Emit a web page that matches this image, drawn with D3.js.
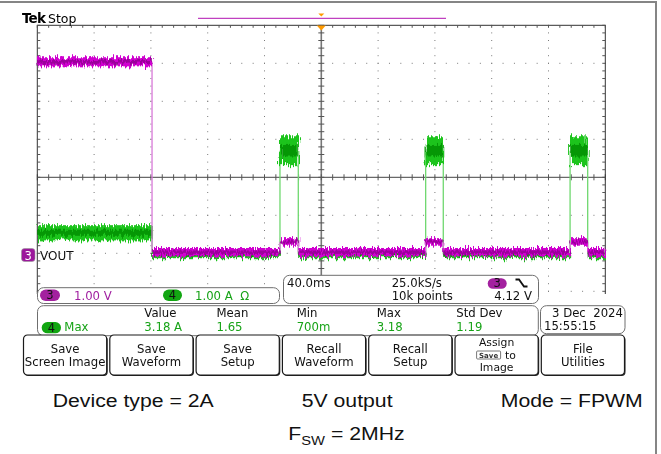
<!DOCTYPE html>
<html>
<head>
<meta charset="utf-8">
<script src="https://cdn.jsdelivr.net/npm/d3@7"></script>
<style>
  html, body { margin: 0; padding: 0; background: #fff; }
  text { white-space: pre; }
</style>
</head>
<body>
<div id="scope"></div>
<script>
// ---- data ----
// time in ms across the 10 div screen (40.0 ms/div)
var segStart = [0, 80.8, 170.9, 183.8, 273.5, 285.9, 375.2, 387.6];
var segEnd   = [80.8, 170.9, 183.8, 273.5, 285.9, 375.2, 387.6, 400];
// ch3 VOUT (V), noise band low / high
var voutLo = [4.98, -0.02, 0.26, -0.02, 0.26, -0.02, 0.26, -0.02];
var voutHi = [5.22, 0.20, 0.46, 0.20, 0.46, 0.20, 0.46, 0.20];
// ch4 inductor current (A), noise band low / high
var iLo = [0.40, -0.07, 2.38, -0.07, 2.38, -0.07, 2.38, -0.07];
var iHi = [0.80, 0.14, 3.14, 0.14, 3.14, 0.14, 3.14, 0.14];

var chanLabels = [["3", "1.00 V"], ["4", "1.00 A  Ω"]];
var measHeads = ["Value", "Mean", "Min", "Max", "Std Dev"];
var measVals = ["3.18 A", "1.65", "700m", "3.18", "1.19"];
var buttons = [["Save", "Screen Image"], ["Save", "Waveform"], ["Save", "Setup"],
               ["Recall", "Waveform"], ["Recall", "Setup"], ["Assign", "to", "Image"],
               ["File", "Utilities"]];
var captions = ["Device type = 2A", "5V output", "Mode = FPWM"];

var width = 661, height = 454;
var PURPLE_T = "#a01fa0", GREEN_T = "#17a317";
var FONT = "DejaVu Sans, Verdana, sans-serif";

var svg = d3.select("#scope").append("svg")
    .attr("width", width)
    .attr("height", height)
    .style("display", "block");

// noise filters for the trace bands
var defs = svg.append("defs");
function noiseFilter(id, seed, sc) {
    var f = defs.append("filter").attr("id", id)
        .attr("filterUnits", "userSpaceOnUse")
        .attr("x", 0).attr("y", 0).attr("width", width).attr("height", height);
    f.append("feTurbulence").attr("type", "fractalNoise")
        .attr("baseFrequency", "0.75 0.04").attr("numOctaves", 2)
        .attr("seed", seed).attr("result", "t");
    f.append("feDisplacementMap").attr("in", "SourceGraphic").attr("in2", "t")
        .attr("scale", sc).attr("xChannelSelector", "B").attr("yChannelSelector", "R");
}
noiseFilter("nz1", 3, 11);
noiseFilter("nz2", 8, 9);
defs.append("clipPath").attr("id", "gratClip")
    .append("rect").attr("x", 0).attr("y", 0).attr("width", width).attr("height", 294);

// outer frame (top + right)
svg.append("rect").attr("x", 0).attr("y", 1).attr("width", 657).attr("height", 2).attr("fill", "#858585");
svg.append("rect").attr("x", 655).attr("y", 1).attr("width", 2).attr("height", height).attr("fill", "#858585");

// scales: x in ms, y in divisions
var x = d3.scaleLinear().domain([0, 400]).range([37.3, 605.3]);
var y = d3.scaleLinear().domain([-4, 4]).range([329.3, 25.3]);
var chOffset = -2.06; // ground level of ch3 / ch4 in div

// ---- graticule ----
var grat = svg.append("g").attr("clip-path", "url(#gratClip)");
var minorT = d3.range(0, 400.01, 8);
var minorD = d3.range(-4, 4.01, 0.2);
// dotted major lines
d3.range(40, 400, 40).filter(function (t) { return t != 200; }).forEach(function (t) {
    grat.selectAll(null).data(minorD).enter().append("rect")
        .attr("x", x(t) - 0.5).attr("y", function (d) { return y(d) - 0.5; })
        .attr("width", 1).attr("height", 1).attr("fill", "#7a7a7a");
});
d3.range(-3, 4, 1).filter(function (d) { return d != 0; }).forEach(function (dv) {
    grat.selectAll(null).data(minorT).enter().append("rect")
        .attr("x", function (t) { return x(t) - 0.5; }).attr("y", y(dv) - 0.5)
        .attr("width", 1).attr("height", 1).attr("fill", "#7a7a7a");
});
// center cross
grat.append("line").attr("x1", x(0)).attr("x2", x(400)).attr("y1", y(0)).attr("y2", y(0))
    .attr("stroke", "#444").attr("stroke-width", 1);
grat.append("line").attr("x1", x(200)).attr("x2", x(200)).attr("y1", y(4)).attr("y2", y(-4))
    .attr("stroke", "#777").attr("stroke-width", 1.6);
grat.selectAll(null).data(minorT).enter().append("line")
    .attr("x1", function (t) { return x(t); }).attr("x2", function (t) { return x(t); })
    .attr("y1", y(0) - 3).attr("y2", y(0) + 3).attr("stroke", "#555");
grat.selectAll(null).data(minorD).enter().append("line")
    .attr("x1", x(200) - 3).attr("x2", x(200) + 3)
    .attr("y1", function (d) { return y(d); }).attr("y2", function (d) { return y(d); })
    .attr("stroke", "#555");
// border + inward ticks
grat.append("rect").attr("x", x(0)).attr("y", y(4)).attr("width", x(400) - x(0)).attr("height", y(-4) - y(4))
    .attr("fill", "none").attr("stroke", "#333");
grat.selectAll(null).data(minorT).enter().append("line")
    .attr("x1", function (t) { return x(t); }).attr("x2", function (t) { return x(t); })
    .attr("y1", y(4)).attr("y2", y(4) + 2.5).attr("stroke", "#555");
grat.selectAll(null).data(minorD).enter().append("line")
    .attr("x1", x(0)).attr("x2", x(0) + 3)
    .attr("y1", function (d) { return y(d); }).attr("y2", function (d) { return y(d); })
    .attr("stroke", "#555");
grat.selectAll(null).data(minorD).enter().append("line")
    .attr("x1", x(400) - 3).attr("x2", x(400))
    .attr("y1", function (d) { return y(d); }).attr("y2", function (d) { return y(d); })
    .attr("stroke", "#555");

// ---- traces ----
function drawTrace(lo, hi, col, core, edge) {
    var g = svg.append("g");
    var idx = d3.range(segStart.length);
    // vertical edges between levels
    g.selectAll(null).data(idx.slice(1)).enter().append("line")
        .attr("x1", function (i) { return x(segStart[i]); })
        .attr("x2", function (i) { return x(segStart[i]); })
        .attr("y1", function (i) { return y(chOffset + (lo[i - 1] + hi[i - 1]) / 2); })
        .attr("y2", function (i) { return y(chOffset + (lo[i] + hi[i]) / 2); })
        .attr("stroke", edge).attr("stroke-width", 1.3);
    var b = g.append("g").attr("filter", "url(#nz1)");
    b.selectAll(null).data(idx).enter().append("rect")
        .attr("x", function (i) { return x(segStart[i]); })
        .attr("width", function (i) { return x(segEnd[i]) - x(segStart[i]); })
        .attr("y", function (i) { return y(chOffset + hi[i]); })
        .attr("height", function (i) { return y(chOffset + lo[i]) - y(chOffset + hi[i]); })
        .attr("fill", col);
    var c = g.append("g").attr("filter", "url(#nz2)");
    c.selectAll(null).data(idx).enter().append("rect")
        .attr("x", function (i) { return x(segStart[i]); })
        .attr("width", function (i) { return x(segEnd[i]) - x(segStart[i]); })
        .attr("y", function (i) { return y(chOffset + hi[i] - (hi[i] - lo[i]) * 0.3); })
        .attr("height", function (i) { return (y(chOffset + lo[i]) - y(chOffset + hi[i])) * 0.4; })
        .attr("fill", core).attr("opacity", 0.8);
}
drawTrace(iLo, iHi, "#1cc41c", "#008c00", "#6fd86f");
drawTrace(voutLo, voutHi, "#d000d0", "#8e008e", "#d878d8");

// ---- top status line ----
svg.append("text").attr("x", 22).attr("y", 23).attr("font-family", FONT)
    .attr("font-size", 13.5).attr("font-weight", "bold").attr("letter-spacing", -0.8).text("Tek");
svg.append("text").attr("x", 48).attr("y", 23).attr("font-family", FONT)
    .attr("font-size", 12.5).text("Stop");
svg.append("line").attr("x1", 198).attr("x2", 446).attr("y1", 18.3).attr("y2", 18.3)
    .attr("stroke", "#c040c0").attr("stroke-width", 1.3);
var tx = x(200);
svg.append("path").attr("d", "M" + (tx - 3) + ",13.5h6l-3,3z").attr("fill", "#ff9a00");
svg.append("path").attr("d", "M" + (tx - 4.5) + ",25.5h9l-4.5,5z").attr("fill", "#ff9a00");

// ch3 ground marker + label
svg.append("rect").attr("x", 21.5).attr("y", 248.5).attr("width", 13.5).attr("height", 13)
    .attr("rx", 3).attr("fill", "#9c179c").attr("stroke", "#999").attr("stroke-width", 0.6);
svg.append("text").attr("x", 28.2).attr("y", 259.5).attr("text-anchor", "middle")
    .attr("font-family", FONT).attr("font-size", 11.5).attr("fill", "#fff").text("3");
svg.append("text").attr("x", 40).attr("y", 259.5).attr("font-family", FONT)
    .attr("font-size", 12).attr("fill", "#111").text("VOUT");

// ---- readout panels ----
function box(x0, y0, w, h) {
    svg.append("rect").attr("x", x0).attr("y", y0).attr("width", w).attr("height", h)
        .attr("rx", 6).attr("fill", "#fff").attr("stroke", "#6e6e6e").attr("stroke-width", 1);
}
function pill(x0, y0, w, h, fill, label) {
    svg.append("rect").attr("x", x0).attr("y", y0).attr("width", w).attr("height", h)
        .attr("rx", h / 2).attr("fill", fill);
    svg.append("text").attr("x", x0 + w / 2).attr("y", y0 + h - 1.8).attr("text-anchor", "middle")
        .attr("font-family", FONT).attr("font-size", 11.5).attr("fill", "#111").text(label);
}
function label(x0, y0, s, col, anchor) {
    svg.append("text").attr("x", x0).attr("y", y0).attr("font-family", FONT)
        .attr("font-size", 11.7).attr("fill", col || "#111")
        .attr("text-anchor", anchor || "start").text(s);
}

// channel scale box
box(37.5, 287.7, 242, 15.8);
pill(40, 289.5, 20, 11.5, "#a3219f", chanLabels[0][0]);
label(74, 299.6, chanLabels[0][1], PURPLE_T);
pill(163, 289.5, 19, 11.5, "#12a612", chanLabels[1][0]);
label(195, 299.6, chanLabels[1][1], GREEN_T);

// timebase box
box(283.5, 275.3, 255, 28.2);
label(287, 287, "40.0ms");
label(391.7, 287, "25.0kS/s");
label(391.7, 300.3, "10k points");
pill(487.7, 278.3, 19, 10.5, "#a3219f", "3");
svg.append("path").attr("d", "M515.5,279.5h3.5l5,7h3.5").attr("fill", "none")
    .attr("stroke", "#111").attr("stroke-width", 1.8);
label(532, 300.3, "4.12 V", "#111", "end");

// measurement box
box(37.5, 305.7, 500.8, 30);
var measX = [144.3, 216.5, 296.7, 376.7, 456.3];
measHeads.forEach(function (s, i) { label(measX[i], 316.8, s); });
pill(41.7, 322, 19.3, 11.3, "#12a612", "4");
label(64.3, 330.8, "Max", GREEN_T);
measVals.forEach(function (s, i) { label(measX[i], 330.8, s, GREEN_T); });

// date box
box(540.5, 305.7, 84.5, 28);
label(552, 316.8, "3 Dec  2024");
label(544, 330.4, "15:55:15");

// ---- soft-key buttons ----
var bx = d3.scaleBand().domain(d3.range(buttons.length)).range([23.5, 624.5]).paddingInner(0.036);
var btn = svg.selectAll("g.btn").data(buttons).enter().append("g").attr("class", "btn")
    .attr("transform", function (d, i) { return "translate(" + bx(i) + ",335)"; });
btn.append("rect").attr("x", 1).attr("y", 1).attr("width", bx.bandwidth()).attr("height", 40)
    .attr("rx", 4).attr("fill", "#222");
btn.append("rect").attr("x", 0).attr("y", 0).attr("width", bx.bandwidth()).attr("height", 40)
    .attr("rx", 4).attr("fill", "#fff").attr("stroke", "#1a1a1a").attr("stroke-width", 1.2);
btn.each(function (d, i) {
    var g = d3.select(this), cx = bx.bandwidth() / 2;
    var three = d.length == 3;
    var base = three ? [10.8, 23.6, 36.4] : [18.3, 30.8];
    d.forEach(function (s, j) {
        var mid = three && j == 1;
        g.append("text").attr("x", mid ? cx + 8.5 : cx).attr("y", base[j])
            .attr("text-anchor", mid ? "start" : "middle").attr("font-family", FONT)
            .attr("font-size", three ? 10.8 : 11.7)
            .attr("fill", "#111").text(s);
    });
    if (three) {
        // small "Save" key icon
        g.append("rect").attr("x", cx - 20).attr("y", 16).attr("width", 24).attr("height", 8)
            .attr("fill", "#fff").attr("stroke", "#555").attr("stroke-width", 0.8).attr("rx", 1);
        g.append("text").attr("x", cx - 8).attr("y", 22.5).attr("text-anchor", "middle")
            .attr("font-family", FONT).attr("font-size", 7).attr("font-weight", "bold")
            .attr("fill", "#333").text("Save");
    }
});

// ---- captions under the screenshot ----
var CAP = "Liberation Sans, Arial, sans-serif";
var capX = [52.7, 301.7, 500.7];
captions.forEach(function (s, i) {
    svg.append("text").attr("transform", "translate(" + capX[i] + ",406.7) scale(1.135,1)")
        .attr("font-family", CAP).attr("font-size", 18.7).attr("fill", "#111").text(s);
});
var fsw = svg.append("text").attr("transform", "translate(288.3,440) scale(1.135,1)")
    .attr("font-family", CAP).attr("font-size", 18.7).attr("fill", "#111");
fsw.append("tspan").text("F");
fsw.append("tspan").attr("font-size", 13).attr("dy", 5).text("SW");
fsw.append("tspan").attr("dy", -5).text(" = 2MHz");
</script>
</body>
</html>
